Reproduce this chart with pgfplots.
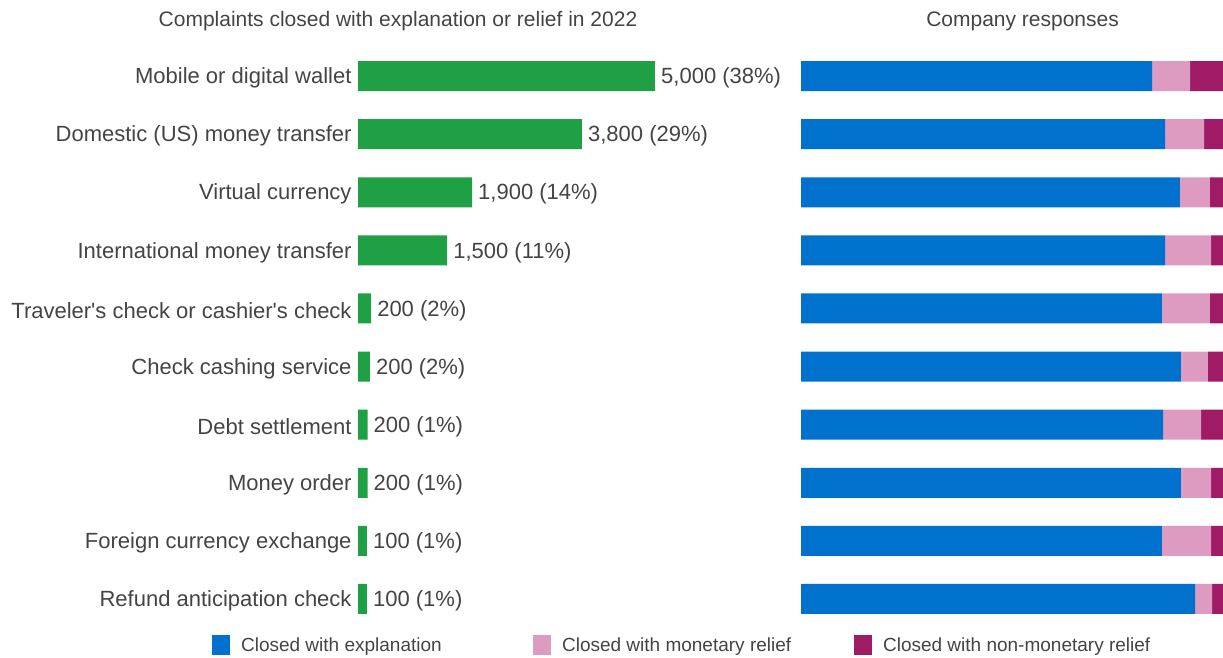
\documentclass[border=0pt]{standalone}
\usepackage{pgfplots}
\pgfplotsset{compat=1.18}
\usepackage{fontspec}
\setmainfont{Liberation Sans}

\definecolor{txt}{RGB}{68,68,68}
\definecolor{cgreen}{RGB}{32,160,68}
\definecolor{cblue}{RGB}{0,114,206}
\definecolor{cpink}{RGB}{221,155,193}
\definecolor{cmag}{RGB}{160,27,102}

\begin{document}
\begin{tikzpicture}
    \useasboundingbox (0pt,0pt) rectangle (1223pt,-658pt);
    \pgfplotsset{
        panel/.style={
            scale only axis,
            height=581pt,
            ymin=-0.5, ymax=9.5,
            y dir=reverse,
            xmin=0,
            xtick=\empty,
            axis line style={draw=none},
            tick style={draw=none},
            clip=false,
            title style={font=\fontsize{21}{25}\selectfont, text=txt, anchor=base},
        },
    }
    % left panel: number of complaints
    \begin{axis}[panel,
        at={(358pt,-47pt)}, anchor=north west,
        width=432pt, xmax=7273,
        xbar, bar width=30pt,
        ytick={0,...,9},
        yticklabels={Mobile or digital wallet, Domestic (US) money transfer, Virtual currency,
            International money transfer, Traveler\textquotesingle s check or cashier\textquotesingle s check,
            Check cashing service, Debt settlement, Money order,
            Foreign currency exchange, Refund anticipation check},
        yticklabel style={font=\fontsize{22}{26}\selectfont, text=txt, inner sep=0pt, anchor=east, xshift=-2pt, yshift=-2pt},
        point meta=explicit symbolic,
        nodes near coords,
        every node near coord/.append style={font=\fontsize{22}{26}\selectfont, text=txt, anchor=west, inner sep=0pt, xshift=6pt, yshift=-2pt},
        title={Complaints closed with explanation or relief in 2022},
        title style={at={(0.0926,1)}, yshift=15pt},
    ]
        \addplot[fill=cgreen, draw=none] coordinates {
            (5000,0) [{5,000 (38\%)}]
            (3770,1) [{3,800 (29\%)}]
            (1920,2) [{1,900 (14\%)}]
            (1500,3) [{1,500 (11\%)}]
            (220,4) [{200 (2\%)}]
            (200,5) [{200 (2\%)}]
            (160,6) [{200 (1\%)}]
            (160,7) [{200 (1\%)}]
            (150,8) [{100 (1\%)}]
            (150,9) [{100 (1\%)}]
        };
    \end{axis}

    % right panel: share of company responses
    \begin{axis}[panel,
        at={(801pt,-47pt)}, anchor=north west,
        width=422pt, xmax=100,
        xbar stacked, bar width=30pt,
        ytick=\empty,
        title={Company responses},
        title style={at={(0.525,1)}, yshift=15pt},
        legend columns=3,
        legend style={at={(-1.396,-0.0293)}, anchor=west, draw=none, fill=none,
            inner sep=0pt, font=\fontsize{19}{23}\selectfont, text=txt,
            nodes={inner sep=0pt},
            /tikz/every odd column/.append style={column sep=11pt}},
        legend image code/.code={\fill[#1, draw=none] (0pt,-10pt) rectangle (18pt,10pt);},
    ]
        \addplot[fill=cblue, draw=none] coordinates {
            (83.2,0) (86.3,1) (89.8,2) (86.3,3) (85.5,4)
            (90.0,5) (85.8,6) (90.0,7) (85.5,8) (93.4,9)
        };
        \addlegendentry{\makebox[292pt][l]{Closed with explanation}}
        \addplot[fill=cpink, draw=none] coordinates {
            (9.0,0) (9.2,1) (7.1,2) (10.9,3) (11.4,4)
            (6.4,5) (9.0,6) (7.2,7) (11.7,8) (4.0,9)
        };
        \addlegendentry{\makebox[292pt][l]{Closed with monetary relief}}
        \addplot[fill=cmag, draw=none] coordinates {
            (7.8,0) (4.5,1) (3.1,2) (2.8,3) (3.1,4)
            (3.6,5) (5.2,6) (2.8,7) (2.8,8) (2.6,9)
        };
        \addlegendentry{Closed with non-monetary relief}
    \end{axis}
\end{tikzpicture}
\end{document}
